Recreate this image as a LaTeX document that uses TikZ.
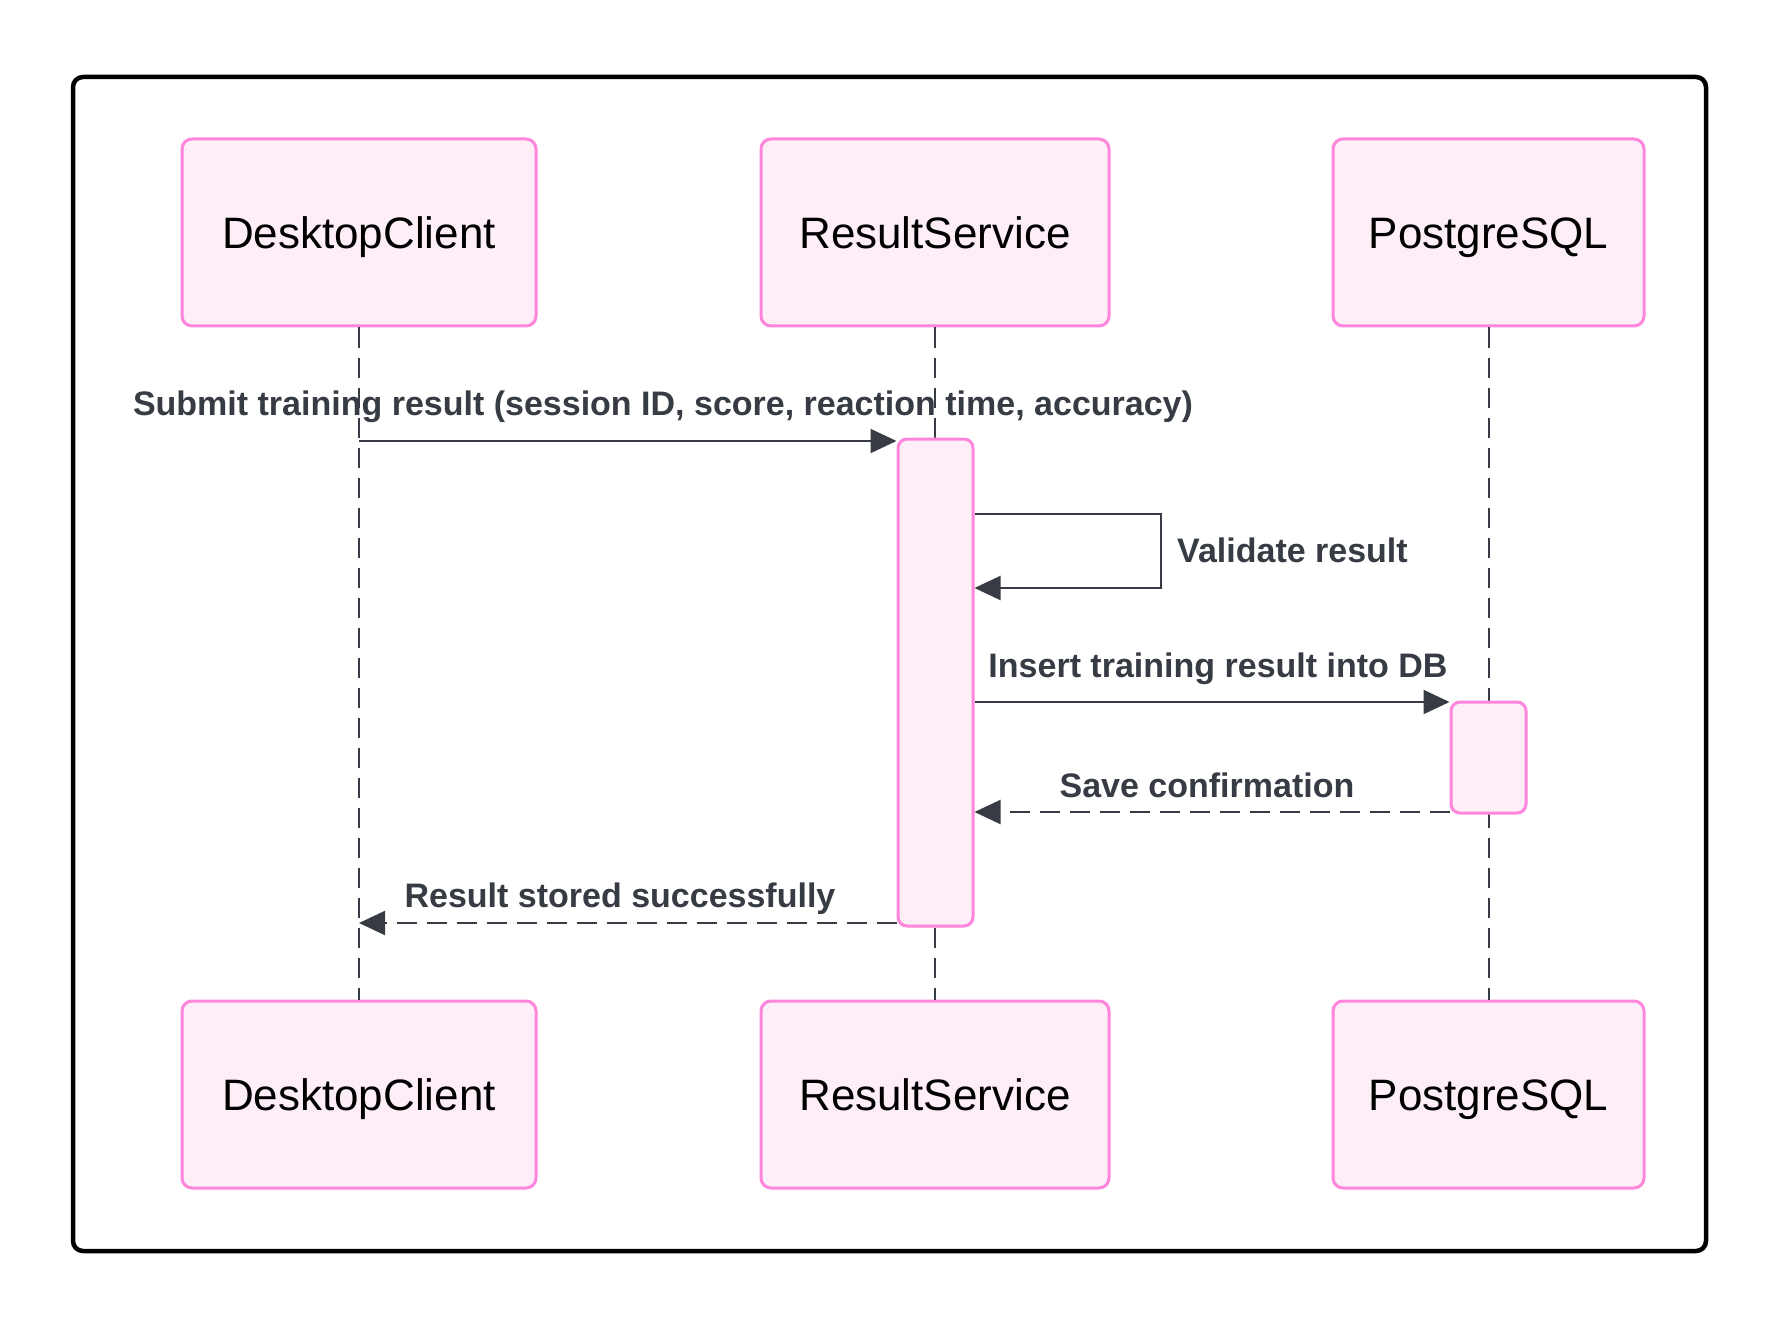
\documentclass[tikz,border=0pt]{standalone}
\usepackage{fontspec}
\setmainfont{Liberation Sans}
\usetikzlibrary{arrows.meta,calc}
\definecolor{boxfill}{HTML}{FDEEF8}
\definecolor{boxdraw}{HTML}{FF85DD}
\definecolor{ink}{HTML}{373C44}
\tikzset{
  actor/.style={draw=boxdraw,fill=boxfill,line width=3pt,rounded corners=10pt,
    minimum height=187pt,inner sep=0pt,text height=31.5pt,text depth=0pt,
    font=\fontsize{44}{50}\selectfont,text=black},
  actbox/.style={draw=boxdraw,fill=boxfill,line width=3pt,rounded corners=9pt,
    minimum width=75pt,inner sep=0pt},
  lifeline/.style={draw=ink,line width=2pt,dash pattern=on 20pt off 10pt},
  msg/.style={draw=ink,line width=2pt,-{Triangle[length=26pt,width=24pt]}},
  reply/.style={msg,dash pattern=on 20pt off 10pt},
  lbl/.style={text=ink,font=\bfseries\fontsize{34}{38}\selectfont,inner sep=0pt,
    text height=24.5pt,text depth=0pt}
}
\begin{document}
\begin{tikzpicture}[x=1pt,y=-1pt]
\useasboundingbox (0,0) rectangle (1783,1324);
\fill[white] (0,0) rectangle (1783,1324);
\draw[line width=4.5pt,rounded corners=10pt] (73,77) rectangle (1706,1251);
% actors
\node[actor,minimum width=354pt] (dcT) at (359,232.5) {DesktopClient};
\node[actor,minimum width=348pt] (rsT) at (935,232.5) {ResultService};
\node[actor,minimum width=311pt] (pgT) at (1488.5,232.5) {PostgreSQL};
\node[actor,minimum width=354pt] (dcB) at (359,1094.5) {DesktopClient};
\node[actor,minimum width=348pt] (rsB) at (935,1094.5) {ResultService};
\node[actor,minimum width=311pt] (pgB) at (1488.5,1094.5) {PostgreSQL};
% lifelines
\draw[lifeline] (dcT.south) -- (dcB.north);
\draw[lifeline] (rsT.south) -- (rsB.north);
\draw[lifeline] (pgT.south) -- (pgB.north);
% activations
\node[actbox,minimum height=487pt] (act1) at (935.5,682.5) {};
\node[actbox,minimum height=111pt] (act2) at (1488.5,757.5) {};
% message rows
\coordinate (y1) at (0,441);
\coordinate (y2) at (0,514);
\coordinate (y3) at (0,588);
\coordinate (y4) at (0,702);
\coordinate (y5) at (0,812);
\coordinate (y6) at (0,923);
\coordinate (sx) at (1161,0);
% messages
\draw[msg] (dcT.south |- y1) -- (act1.west |- y1);
\node[lbl] (l1) at (663,403) {Submit training result (session ID, score, reaction time, accuracy)};
\draw[msg] (act1.east |- y2) -- (sx |- y2) -- (sx |- y3) -- (act1.east |- y3);
\node[lbl,anchor=west] (l2) at (1177,550) {Validate result};
\draw[msg] (act1.east |- y4) -- (act2.west |- y4);
\node[lbl] (l3) at (1218,665) {Insert training result into DB};
\draw[reply] (act2.west |- y5) -- (act1.east |- y5);
\node[lbl] (l4) at (1207,785) {Save confirmation};
\draw[reply] (act1.west |- y6) -- (dcT.south |- y6);
\node[lbl] (l5) at (620,895) {Result stored successfully};
\end{tikzpicture}
\end{document}
